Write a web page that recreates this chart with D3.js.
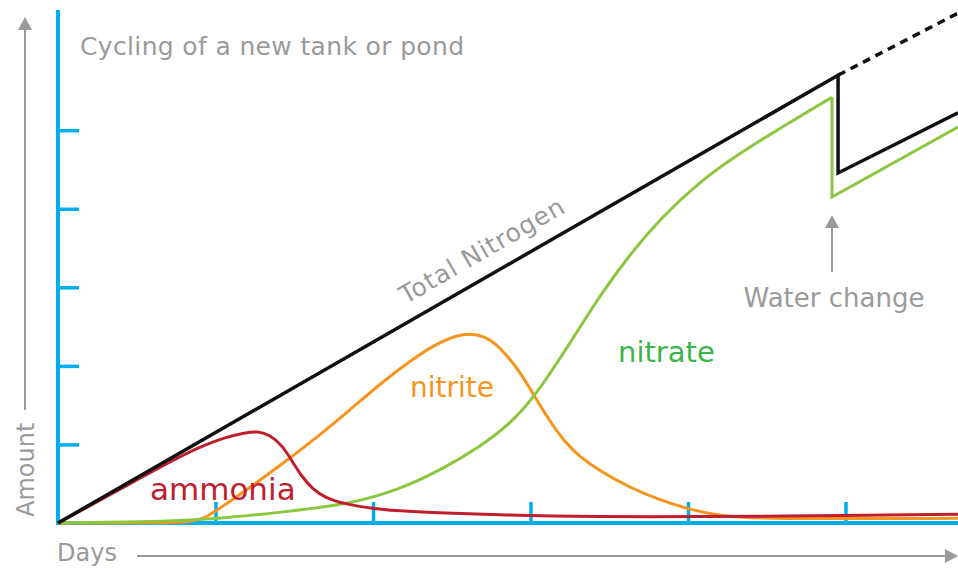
<!DOCTYPE html>
<html>
<head>
<meta charset="utf-8">
<script src="https://cdn.jsdelivr.net/npm/d3@7"></script>
<style>
  body { margin: 0; background: #fff; }
  svg { display: block; font-family: "DejaVu Sans", sans-serif; }
</style>
</head>
<body>
<div id="chart"></div>
<script>
const width = 958;
const height = 569;

// days on x, amount (arbitrary units) on y
const dayTicks = [7, 14, 21, 28, 35];
const amountTicks = [1, 2, 3, 4, 5];

const ammonia = [
  [0, 0], [1.87, 0.29], [3.33, 0.52], [4.84, 0.76], [6.31, 0.97], [7.42, 1.09],
  [8.31, 1.15], [8.89, 1.17], [9.42, 1.12], [9.96, 0.99], [10.4, 0.79],
  [10.84, 0.59], [11.29, 0.44], [11.87, 0.32], [12.76, 0.24], [14.09, 0.18],
  [15.2, 0.15], [19.64, 0.1], [24.09, 0.08], [28.53, 0.08], [32.98, 0.09], [40, 0.11]
];

const nitrite = [
  [0, 0], [4.09, 0], [5.87, 0.01], [6.53, 0.06], [7.2, 0.19], [8.53, 0.45],
  [10, 0.76], [11.51, 1.09], [12.98, 1.44], [14.31, 1.77], [15.64, 2.06],
  [16.76, 2.28], [18.09, 2.43], [18.98, 2.38], [19.64, 2.24], [20.53, 1.93],
  [21.2, 1.6], [21.87, 1.29], [22.53, 1.03], [23.2, 0.84], [24.09, 0.66],
  [25.42, 0.45], [26.76, 0.29], [28.09, 0.17], [29.42, 0.09], [31.2, 0.05], [40, 0.06]
];

const nitrate = [
  [0, 0], [3.64, 0.01], [7.07, 0.05], [10, 0.14], [12.98, 0.24], [15.2, 0.43],
  [16.98, 0.67], [18.76, 0.97], [20.09, 1.26], [21.2, 1.61], [22.76, 2.29],
  [24.09, 2.9], [25.42, 3.42], [26.76, 3.87], [28.53, 4.35], [30.31, 4.71],
  [32.53, 5.1], [34.4, 5.42]
];
const nitrateAfterChange = [[34.4, 5.42], [34.4, 4.15], [40, 5.04]];

const totalNitrogen = [[0, 0], [34.67, 5.7], [34.67, 4.455], [40, 5.22]];
const totalNoChange = [[34.67, 5.7], [40, 6.49]];

const waterChangeDay = 34.4;

const blue = "#00aeef";
const grey = "#9a9a9a";

const x = d3.scaleLinear().domain([0, 40]).range([58, 958]);
const y = d3.scaleLinear().domain([0, 6.53]).range([523, 10]);

const svg = d3
  .select("#chart")
  .append("svg")
  .attr("width", width)
  .attr("height", height);

// blue axes
svg
  .append("g")
  .attr("transform", `translate(${x(0)},0)`)
  .call(d3.axisRight(y).tickValues(amountTicks).tickSize(21).tickFormat(""))
  .call((g) => g.select(".domain").remove())
  .call((g) => g.selectAll("line").attr("stroke", blue).attr("stroke-width", 3.5));

svg
  .append("g")
  .attr("transform", `translate(0,${y(0)})`)
  .call(d3.axisTop(x).tickValues(dayTicks).tickSize(21).tickFormat(""))
  .call((g) => g.select(".domain").remove())
  .call((g) => g.selectAll("line").attr("stroke", blue).attr("stroke-width", 3.5));

svg
  .append("path")
  .attr("d", `M${x(0)},${y(6.53)}V${y(0)}H${x(40)}`)
  .attr("fill", "none")
  .attr("stroke", blue)
  .attr("stroke-width", 4);

const smooth = d3
  .line()
  .x((d) => x(d[0]))
  .y((d) => y(d[1]))
  .curve(d3.curveBasis);
const straight = d3.line().x((d) => x(d[0])).y((d) => y(d[1]));

function drawLine(data, gen, color, w) {
  return svg
    .append("path")
    .datum(data)
    .attr("d", gen)
    .attr("fill", "none")
    .attr("stroke", color)
    .attr("stroke-width", w)
    .attr("stroke-linejoin", "miter");
}

drawLine(nitrite, smooth, "#f7941d", 3);
drawLine(nitrate, smooth, "#8cc63f", 3);
drawLine(nitrateAfterChange, straight, "#8cc63f", 3);
drawLine(ammonia, smooth, "#be1e2d", 3);
drawLine(totalNitrogen, straight, "#111", 3.5);
drawLine(totalNoChange, straight, "#111", 3.5).attr("stroke-dasharray", "8,6");

// labels
svg.append("text")
  .attr("x", 80).attr("y", 55)
  .attr("font-size", 25).attr("letter-spacing", 0.35).attr("fill", grey)
  .text("Cycling of a new tank or pond");

svg.append("text")
  .attr("transform", `translate(${x(15.45)},${y(2.78)}) rotate(-30)`)
  .attr("font-size", 25).attr("letter-spacing", 0.9).attr("fill", grey)
  .text("Total Nitrogen");

svg.append("text")
  .attr("x", x(15.64)).attr("y", y(1.6))
  .attr("font-size", 28).attr("fill", "#f7941d")
  .text("nitrite");

svg.append("text")
  .attr("x", x(24.89)).attr("y", y(2.05))
  .attr("font-size", 29).attr("fill", "#39b54a")
  .text("nitrate");

svg.append("text")
  .attr("x", x(4.09)).attr("y", y(0.29))
  .attr("font-size", 31).attr("fill", "#be1e2d")
  .text("ammonia");

svg.append("text")
  .attr("x", x(waterChangeDay) + 2).attr("y", 307)
  .attr("text-anchor", "middle")
  .attr("font-size", 26).attr("fill", grey)
  .text("Water change");

// grey arrows
function arrow(x1, y1, x2, y2) {
  const a = Math.atan2(y2 - y1, x2 - x1);
  const len = 13, half = 7;
  const bx = x2 - len * Math.cos(a), by = y2 - len * Math.sin(a);
  svg.append("line")
    .attr("x1", x1).attr("y1", y1).attr("x2", bx).attr("y2", by)
    .attr("stroke", grey).attr("stroke-width", 2);
  svg.append("path")
    .attr("d", `M${x2},${y2}L${bx + half * Math.sin(a)},${by - half * Math.cos(a)}L${bx - half * Math.sin(a)},${by + half * Math.cos(a)}Z`)
    .attr("fill", grey);
}

arrow(x(waterChangeDay), 272, x(waterChangeDay), 215);
arrow(25, 410, 25, 17);
arrow(137, 556, 958, 556);

svg.append("text")
  .attr("transform", "translate(34,517) rotate(-90)")
  .attr("font-size", 24).attr("fill", grey)
  .text("Amount");

svg.append("text")
  .attr("x", 57).attr("y", 561)
  .attr("font-size", 24).attr("fill", grey)
  .text("Days");
</script>
</body>
</html>
